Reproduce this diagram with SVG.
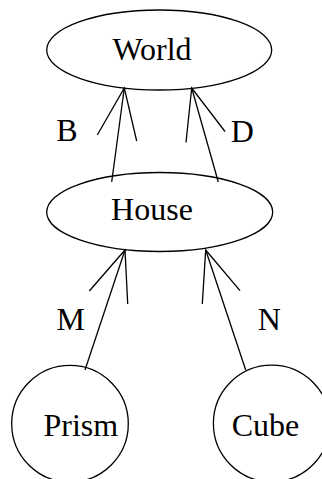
<svg xmlns="http://www.w3.org/2000/svg" width="322" height="479" viewBox="0 0 322 479">
<style>
.n{fill:#fff;stroke:#000;stroke-width:1.3}
.t{font-family:"Liberation Serif","Times New Roman",serif;font-size:32px;fill:#000;text-anchor:middle}
.e{fill:none;stroke:#000;stroke-width:1.3}
</style>
<rect width="322" height="479" fill="#fff"/>
<g id="World"><ellipse class="n" cx="159.2" cy="50" rx="112.5" ry="40"/><text class="t" x="152" y="59.5">World</text></g>
<g id="House"><ellipse class="n" cx="159.7" cy="212" rx="113" ry="39.5"/><text class="t" x="152" y="219.5">House</text></g>
<g id="Prism"><circle class="n" cx="70" cy="423.7" r="58.3"/><text class="t" x="80.8" y="435.5">Prism</text></g>
<g id="Cube"><circle class="n" cx="271.7" cy="423.5" r="58.3"/><text class="t" x="265.5" y="436">Cube</text></g>
<g id="connectors">
<line class="e" x1="111.7" y1="182" x2="124.3" y2="88"/>
<polyline class="e" points="97.3,135 124.3,88 136.7,141"/>
<text class="t" x="67" y="141">B</text>
<line class="e" x1="218.3" y1="182" x2="191.7" y2="88"/>
<polyline class="e" points="186,142.5 191.7,88 225,131.5"/>
<text class="t" x="242.2" y="142">D</text>
<line class="e" x1="85" y1="370" x2="125" y2="250"/>
<polyline class="e" points="89.3,291 125,250 127.7,304"/>
<text class="t" x="70.8" y="329.5">M</text>
<line class="e" x1="245.7" y1="370" x2="205.7" y2="250"/>
<polyline class="e" points="202.3,304 205.7,250 240,290.7"/>
<text class="t" x="269.2" y="329.5">N</text>
</g>
</svg>
